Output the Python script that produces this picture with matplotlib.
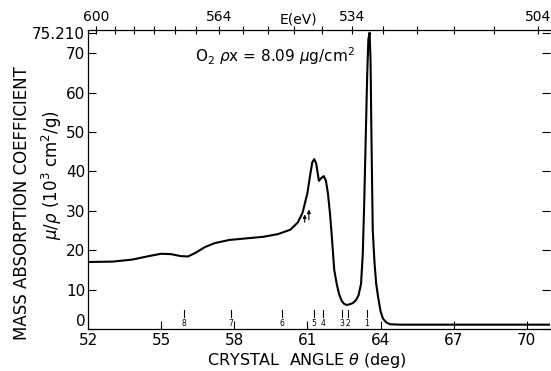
import numpy as np
import matplotlib
matplotlib.use('Agg')
from matplotlib import pyplot as plt

plt.rcParams['font.family'] = ['DejaVu Sans']

# crystal angle (deg) vs mass absorption coefficient (10^3 cm^2/g)
theta = [52.0, 53.0, 53.8, 54.5, 55.0, 55.4, 55.8, 56.1, 56.4, 56.8, 57.2, 57.8,
         58.5, 59.2, 59.8, 60.3, 60.6, 60.8, 61.0, 61.1, 61.2, 61.28, 61.36, 61.47,
         61.57, 61.67, 61.76, 61.84, 61.93, 62.0, 62.1, 62.2, 62.3, 62.41, 62.5,
         62.61, 62.75, 62.87, 63.0, 63.1, 63.2, 63.27, 63.33, 63.39, 63.45,
         63.5, 63.55, 63.59, 63.62, 63.65, 63.68, 63.75, 63.82, 63.9, 64.0,
         64.1, 64.25, 64.4, 64.8, 71.0]
mu = [17.0, 17.1, 17.6, 18.5, 19.1, 19.0, 18.5, 18.4, 19.3, 20.8, 21.8, 22.6,
      23.0, 23.4, 24.1, 25.2, 27.0, 29.5, 34.5, 38.6, 42.3, 43.1, 42.0, 37.6,
      38.3, 38.8, 37.6, 34.5, 29.0, 23.5, 15.0, 11.5, 8.8, 7.1, 6.4,
      6.1, 6.3, 6.6, 7.4, 8.6, 11.5, 19.0, 32.0, 48.0, 64.0,
      73.5, 75.2, 68.0, 52.0, 38.0, 25.0, 17.0, 11.5, 8.1, 4.5,
      2.6, 1.6, 1.2, 1.1, 1.1]

# numbered line markers near the axis
marker_theta = [63.43, 62.67, 62.43, 61.64, 61.28, 59.95, 57.86, 55.93]
marker_labels = ['1', '2', '3', '4', '5', '6', '7', '8']

# arrows on the rising edge (theta, start mu, end mu)
arrows = [(60.89, 26.4, 29.8), (61.06, 27.0, 31.0)]

x_ticks = [52, 55, 58, 61, 64, 67, 70]
y_ticks = [0, 10, 20, 30, 40, 50, 60, 70, 75.21]
y_ticklabels = ['0', '10', '20', '30', '40', '50', '60', '70', '75.210']

# top energy scale: E sin(theta) = K
K = 475.0
e_ticks = list(range(504, 601, 6))
e_labels = {600: '600', 564: '564', 534: '534', 504: '504'}

fig = plt.figure(figsize=(5.51, 3.71), dpi=100)
ax = fig.add_axes([88/551, 42/371, (550-88)/551, (329-29.5)/371])

ax.plot(theta, mu, color='black', lw=1.5, solid_joinstyle='round')

for t, lab in zip(marker_theta, marker_labels):
    ax.plot([t, t], [3.1, 4.9], color='black', lw=0.8)
    ax.text(t, 1.3, lab, ha='center', va='center', fontsize=5.5)

for t, y0, y1 in arrows:
    ax.annotate('', xy=(t, y1), xytext=(t, y0),
                arrowprops=dict(arrowstyle='-|>', color='black', lw=0.8,
                                mutation_scale=5))

ax.set_xlim(52, 70.95)
ax.set_ylim(0, 76)
ax.set_xticks(x_ticks)
ax.set_yticks(y_ticks)
ax.set_yticklabels(y_ticklabels)
ax.get_yticklabels()[0].set_va('bottom')
ax.tick_params(direction='in', length=6, width=0.8, labelsize=11,
               top=True, right=True, pad=2)
ax.tick_params(axis='x', pad=3)
ax.spines['right'].set_visible(False)
for s in ax.spines.values():
    s.set_linewidth(0.9)

fig.text(307/551, 1 - 361/371, r'CRYSTAL  ANGLE $\theta$ (deg)', fontsize=11.5,
         ha='center', va='center')
fig.text(22/551, 1 - 203/371, 'MASS ABSORPTION COEFFICIENT', fontsize=12,
         rotation=90, ha='center', va='center')
fig.text(52/551, 1 - 175/371, r'$\mu/\rho$ (10$^3$ cm$^2$/g)', fontsize=12,
         rotation=90, ha='center', va='center')

ax.text(56.4, 69.2, r'O$_2$ $\rho$x = 8.09 $\mu$g/cm$^2$', fontsize=11,
        ha='left', va='center')

top = ax.twiny()
top.set_xlim(ax.get_xlim())
top.set_xticks([np.degrees(np.arcsin(K / e)) for e in e_ticks])
top.set_xticklabels([e_labels.get(e, '') for e in e_ticks])
top.tick_params(direction='inout', length=6, width=0.8, labelsize=10, pad=1)
for s in top.spines.values():
    s.set_visible(False)
top.text(np.degrees(np.arcsin(K / 545)), 1.01, 'E(eV)', transform=top.get_xaxis_transform(),
         ha='center', va='bottom', fontsize=10)

fig.savefig('out.png', dpi=100)
